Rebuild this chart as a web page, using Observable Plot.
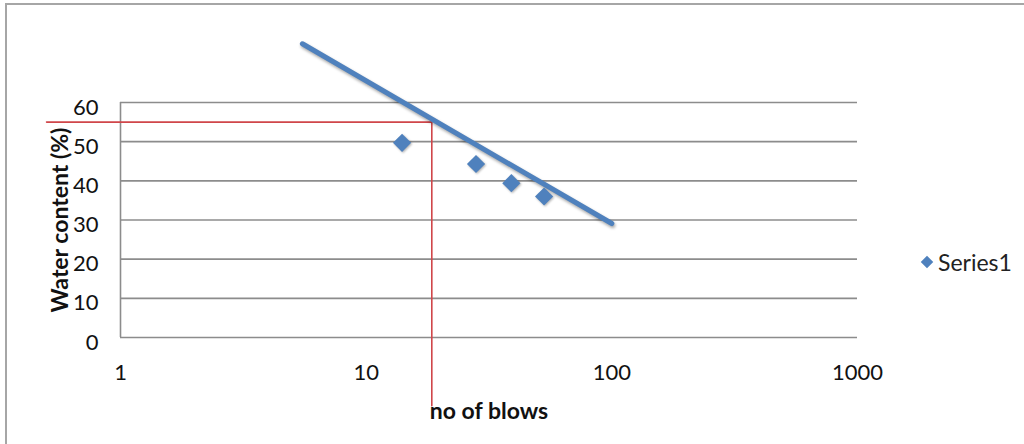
<!DOCTYPE html>
<html>
<head>
<meta charset="utf-8">
<script src="https://cdn.jsdelivr.net/npm/d3@7"></script>
<script src="https://cdn.jsdelivr.net/npm/@observablehq/plot@0.6"></script>
<style>
  html, body { margin: 0; padding: 0; background: #fff; }
  #wrap { position: relative; width: 1024px; height: 444px; overflow: hidden; font-family: Lato, "Open Sans", sans-serif; }
  #border { position: absolute; left: 5px; top: 3px; width: 1040px; height: 460px; border: 2px solid #a6a6a6; box-sizing: border-box; pointer-events: none; }
  #legend { position: absolute; left: 919px; top: 248px; display: flex; align-items: center; gap: 3px; font-size: 23px; color: #222; }
  #chart svg { display: block; }
</style>
</head>
<body>
<div id="wrap">
  <div id="chart"></div>
  <div id="border"></div>
  <div id="legend"></div>
</div>
<script>
// Data
const blows = [14, 28, 39, 53];
const waterContent = [49.7, 44.3, 39.4, 36.0];
const trendX = [5.5, 100];
const trendY = [75, 29.1];
const guideX = [0.5, 18.5, 18.5];
const guideY = [55, 55, -17.4];
const yTicks = [0, 10, 20, 30, 40, 50, 60];
const xTicks = [1, 10, 100, 1000];
const seriesName = "Series1";

const blue = "#4f81bd";
const points = blows.map((b, i) => ({x: b, y: waterContent[i]}));
const trend = trendX.map((x, i) => ({x, y: trendY[i]}));
const guide = guideX.map((x, i) => ({x, y: guideY[i]}));

const chart = Plot.plot({
  width: 1024,
  height: 444,
  marginLeft: 120,
  marginRight: 167,
  marginTop: 102,
  marginBottom: 107,
  style: {fontFamily: "Lato, 'Open Sans', sans-serif", fontSize: "22px", color: "#111", background: "transparent"},
  x: {type: "log", domain: [1, 1000]},
  y: {domain: [0, 60]},
  marks: [
    Plot.ruleY(yTicks, {stroke: "#8c8c8c", strokeWidth: 1.6}),
    Plot.ruleX([1], {y1: 0, y2: 60, stroke: "#8c8c8c", strokeWidth: 1.6}),
    Plot.axisY({ticks: yTicks, tickSize: 0, tickPadding: 22, dy: 5, fontSize: 22,
      label: "Water content (%)", labelAnchor: "center", labelArrow: "none", labelOffset: 69}),
    Plot.axisX({ticks: xTicks, tickFormat: d => String(d), tickSize: 0, tickPadding: 27, fontSize: 22,
      label: "no of blows", labelAnchor: "center", labelArrow: "none", labelOffset: 81}),
    Plot.line(guide, {x: "x", y: "y", stroke: "#d0464a", strokeWidth: 1.6, clip: false}),
    Plot.line(trend, {x: "x", y: "y", stroke: blue, strokeWidth: 5, clip: false}),
    Plot.dot(points, {x: "x", y: "y", symbol: "diamond2", r: 8.2, fill: blue})
  ]
});

// bold axis titles
chart.querySelectorAll('g[aria-label="y-axis label"] text, g[aria-label="x-axis label"] text').forEach(t => {
  t.setAttribute("font-weight", "bold");
  t.setAttribute("font-size", "23");
});
// subtle shadow like the original
chart.querySelectorAll('g[aria-label="line"]')[1]?.setAttribute("style", "filter: drop-shadow(1px 2px 1.5px rgba(0,0,0,0.35))");
chart.querySelectorAll('g[aria-label="dot"]').forEach(g => g.setAttribute("style", "filter: drop-shadow(1px 1.5px 1px rgba(0,0,0,0.3))"));

document.getElementById("chart").appendChild(chart);

// legend
const legend = document.getElementById("legend");
const sym = d3.create("svg").attr("width", 16).attr("height", 16);
sym.append("path").attr("transform", "translate(8,8)")
  .attr("d", d3.symbol(d3.symbolDiamond2, 100)()).attr("fill", blue);
legend.appendChild(sym.node());
const lab = document.createElement("span");
lab.textContent = seriesName;
legend.appendChild(lab);
</script>
</body>
</html>
